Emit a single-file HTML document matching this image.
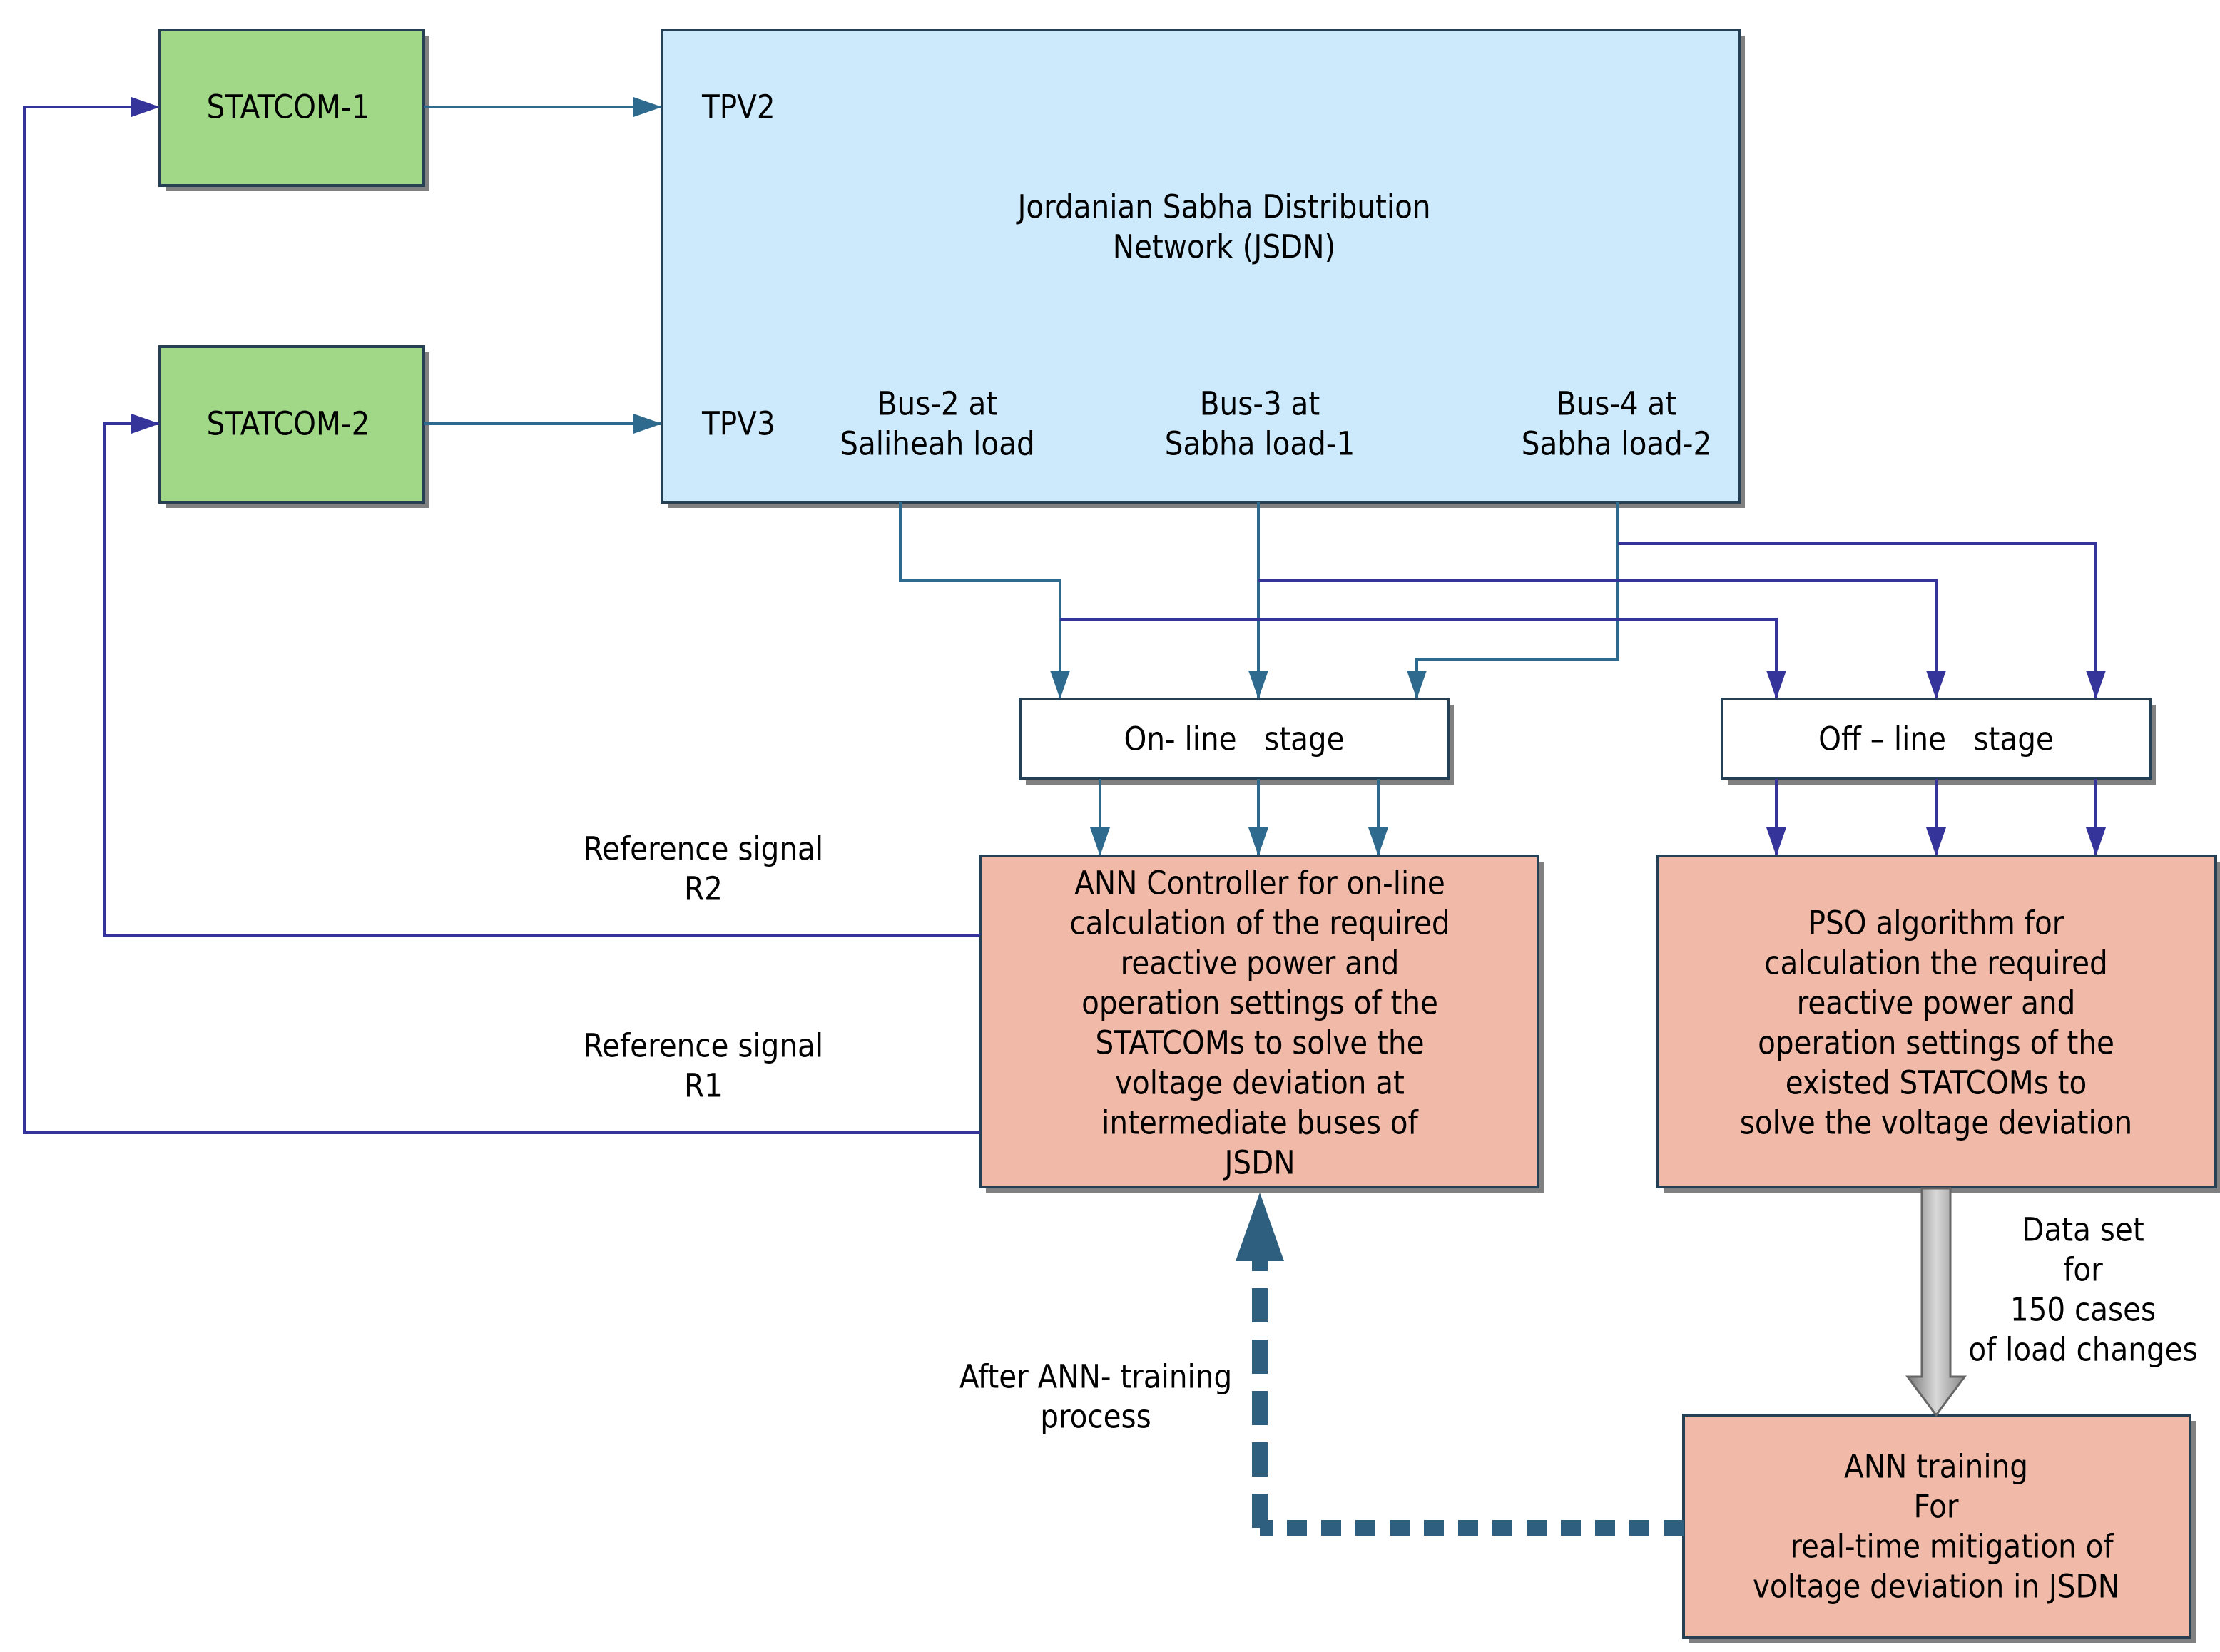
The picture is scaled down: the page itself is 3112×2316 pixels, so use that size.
<!DOCTYPE html>
<html><head><meta charset="utf-8">
<style>html,body{margin:0;padding:0;background:#fff}svg{display:block}</style></head>
<body>
<svg width="3112" height="2316" viewBox="0 0 1556 1158" xmlns="http://www.w3.org/2000/svg">
<defs>
<marker id="at2" markerWidth="20" markerHeight="14" refX="19" refY="7" orient="auto" markerUnits="userSpaceOnUse"><path d="M0,0 L20,7 L0,14 z" fill="#2e6a8e"/></marker>
<marker id="ab2" markerWidth="20" markerHeight="14" refX="19" refY="7" orient="auto" markerUnits="userSpaceOnUse"><path d="M0,0 L20,7 L0,14 z" fill="#35349a"/></marker>
<linearGradient id="g" x1="0" x2="1" y1="0" y2="0"><stop offset="0" stop-color="#777"/><stop offset="0.5" stop-color="#d8d8d8"/><stop offset="1" stop-color="#888"/></linearGradient>
</defs>
<g font-family="'DejaVu Sans Condensed','DejaVu Sans','Liberation Sans',sans-serif" font-size="22.5" fill="#000" text-anchor="middle" dominant-baseline="central">
<g fill="#808080">
<rect x="116" y="25" width="185" height="109"/>
<rect x="116" y="247" width="185" height="109"/>
<rect x="468" y="25" width="755" height="331"/>
<rect x="719" y="494" width="300" height="56"/>
<rect x="1211" y="494" width="300" height="56"/>
<rect x="691" y="604" width="391" height="232"/>
<rect x="1166" y="604" width="391" height="232"/>
<rect x="1184" y="996" width="355" height="156"/>
</g>
<g stroke="#253f55" stroke-width="2">
<rect x="112" y="21" width="185" height="109" fill="#a0d888"/>
<rect x="112" y="243" width="185" height="109" fill="#a0d888"/>
<rect x="464" y="21" width="755" height="331" fill="#cdeafd"/>
<rect x="715" y="490" width="300" height="56" fill="#fff"/>
<rect x="1207" y="490" width="300" height="56" fill="#fff"/>
<rect x="687" y="600" width="391" height="232" fill="#f1b9a7"/>
<rect x="1162" y="600" width="391" height="232" fill="#f1b9a7"/>
<rect x="1180" y="992" width="355" height="156" fill="#f1b9a7"/>
</g>
<g fill="none" stroke="#2e6a8e" stroke-width="2">
<path d="M297,75 H463" marker-end="url(#at2)"/>
<path d="M297,297 H463" marker-end="url(#at2)"/>
<path d="M631,352 V407 H743 V489" marker-end="url(#at2)"/>
<path d="M882,352 V489" marker-end="url(#at2)"/>
<path d="M1134,352 V462 H993 V489" marker-end="url(#at2)"/>
<path d="M771,546 V599" marker-end="url(#at2)"/>
<path d="M882,546 V599" marker-end="url(#at2)"/>
<path d="M966,546 V599" marker-end="url(#at2)"/>
</g>
<g fill="none" stroke="#35349a" stroke-width="2">
<path d="M743,434 H1245 V489" marker-end="url(#ab2)"/>
<path d="M882,407 H1357 V489" marker-end="url(#ab2)"/>
<path d="M1134,381 H1469 V489" marker-end="url(#ab2)"/>
<path d="M1245,546 V599" marker-end="url(#ab2)"/>
<path d="M1357,546 V599" marker-end="url(#ab2)"/>
<path d="M1469,546 V599" marker-end="url(#ab2)"/>
<path d="M687,794 H17 V75 H111" marker-end="url(#ab2)"/>
<path d="M687,656 H73 V297 H111" marker-end="url(#ab2)"/>
</g>
<path d="M1347,833 H1367 V965 H1377 L1357,992 L1337,965 H1347 Z" fill="url(#g)" stroke="#666" stroke-width="1.5"/>
<g fill="none" stroke="#2e5f7e" stroke-width="11">
<path d="M1180,1071 H883" stroke-dasharray="14 10"/>
<path d="M883,1071 V880" stroke-dasharray="24 12"/>
</g>
<path d="M883,836 L900,884 H866 Z" fill="#2e5f7e"/>
<text x="202" y="75">STATCOM-1</text>
<text x="202" y="297">STATCOM-2</text>
<text x="492" y="75" text-anchor="start">TPV2</text>
<text x="492" y="297" text-anchor="start">TPV3</text>
<text x="858" y="145">Jordanian Sabha Distribution</text>
<text x="858" y="173">Network (JSDN)</text>
<text x="657" y="283">Bus-2 at</text><text x="657" y="311">Saliheah load</text>
<text x="883" y="283">Bus-3 at</text><text x="883" y="311">Sabha load-1</text>
<text x="1133" y="283">Bus-4 at</text><text x="1133" y="311">Sabha load-2</text>
<text x="865" y="518" xml:space="preserve">On- line   stage</text>
<text x="1357" y="518" xml:space="preserve">Off – line   stage</text>
<text x="493" y="595">Reference signal</text><text x="493" y="623">R2</text>
<text x="493" y="733">Reference signal</text><text x="493" y="761">R1</text>
<text x="883" y="619">ANN Controller for on-line</text>
<text x="883" y="647">calculation of the required</text>
<text x="883" y="675">reactive power and</text>
<text x="883" y="703">operation settings of the</text>
<text x="883" y="731">STATCOMs to solve the</text>
<text x="883" y="759">voltage deviation at</text>
<text x="883" y="787">intermediate buses of</text>
<text x="883" y="815">JSDN</text>
<text x="1357" y="647">PSO algorithm for</text>
<text x="1357" y="675">calculation the required</text>
<text x="1357" y="703">reactive power and</text>
<text x="1357" y="731">operation settings of the</text>
<text x="1357" y="759">existed STATCOMs to</text>
<text x="1357" y="787">solve the voltage deviation</text>
<text x="1460" y="862">Data set</text><text x="1460" y="890">for</text>
<text x="1460" y="918">150 cases</text><text x="1460" y="946">of load changes</text>
<text x="768" y="965">After ANN- training</text><text x="768" y="993">process</text>
<text x="1357" y="1028">ANN training</text>
<text x="1357" y="1056">For</text>
<text x="1368" y="1084">real-time mitigation of</text>
<text x="1357" y="1112">voltage deviation in JSDN</text>
</g>
</svg>
</body></html>
